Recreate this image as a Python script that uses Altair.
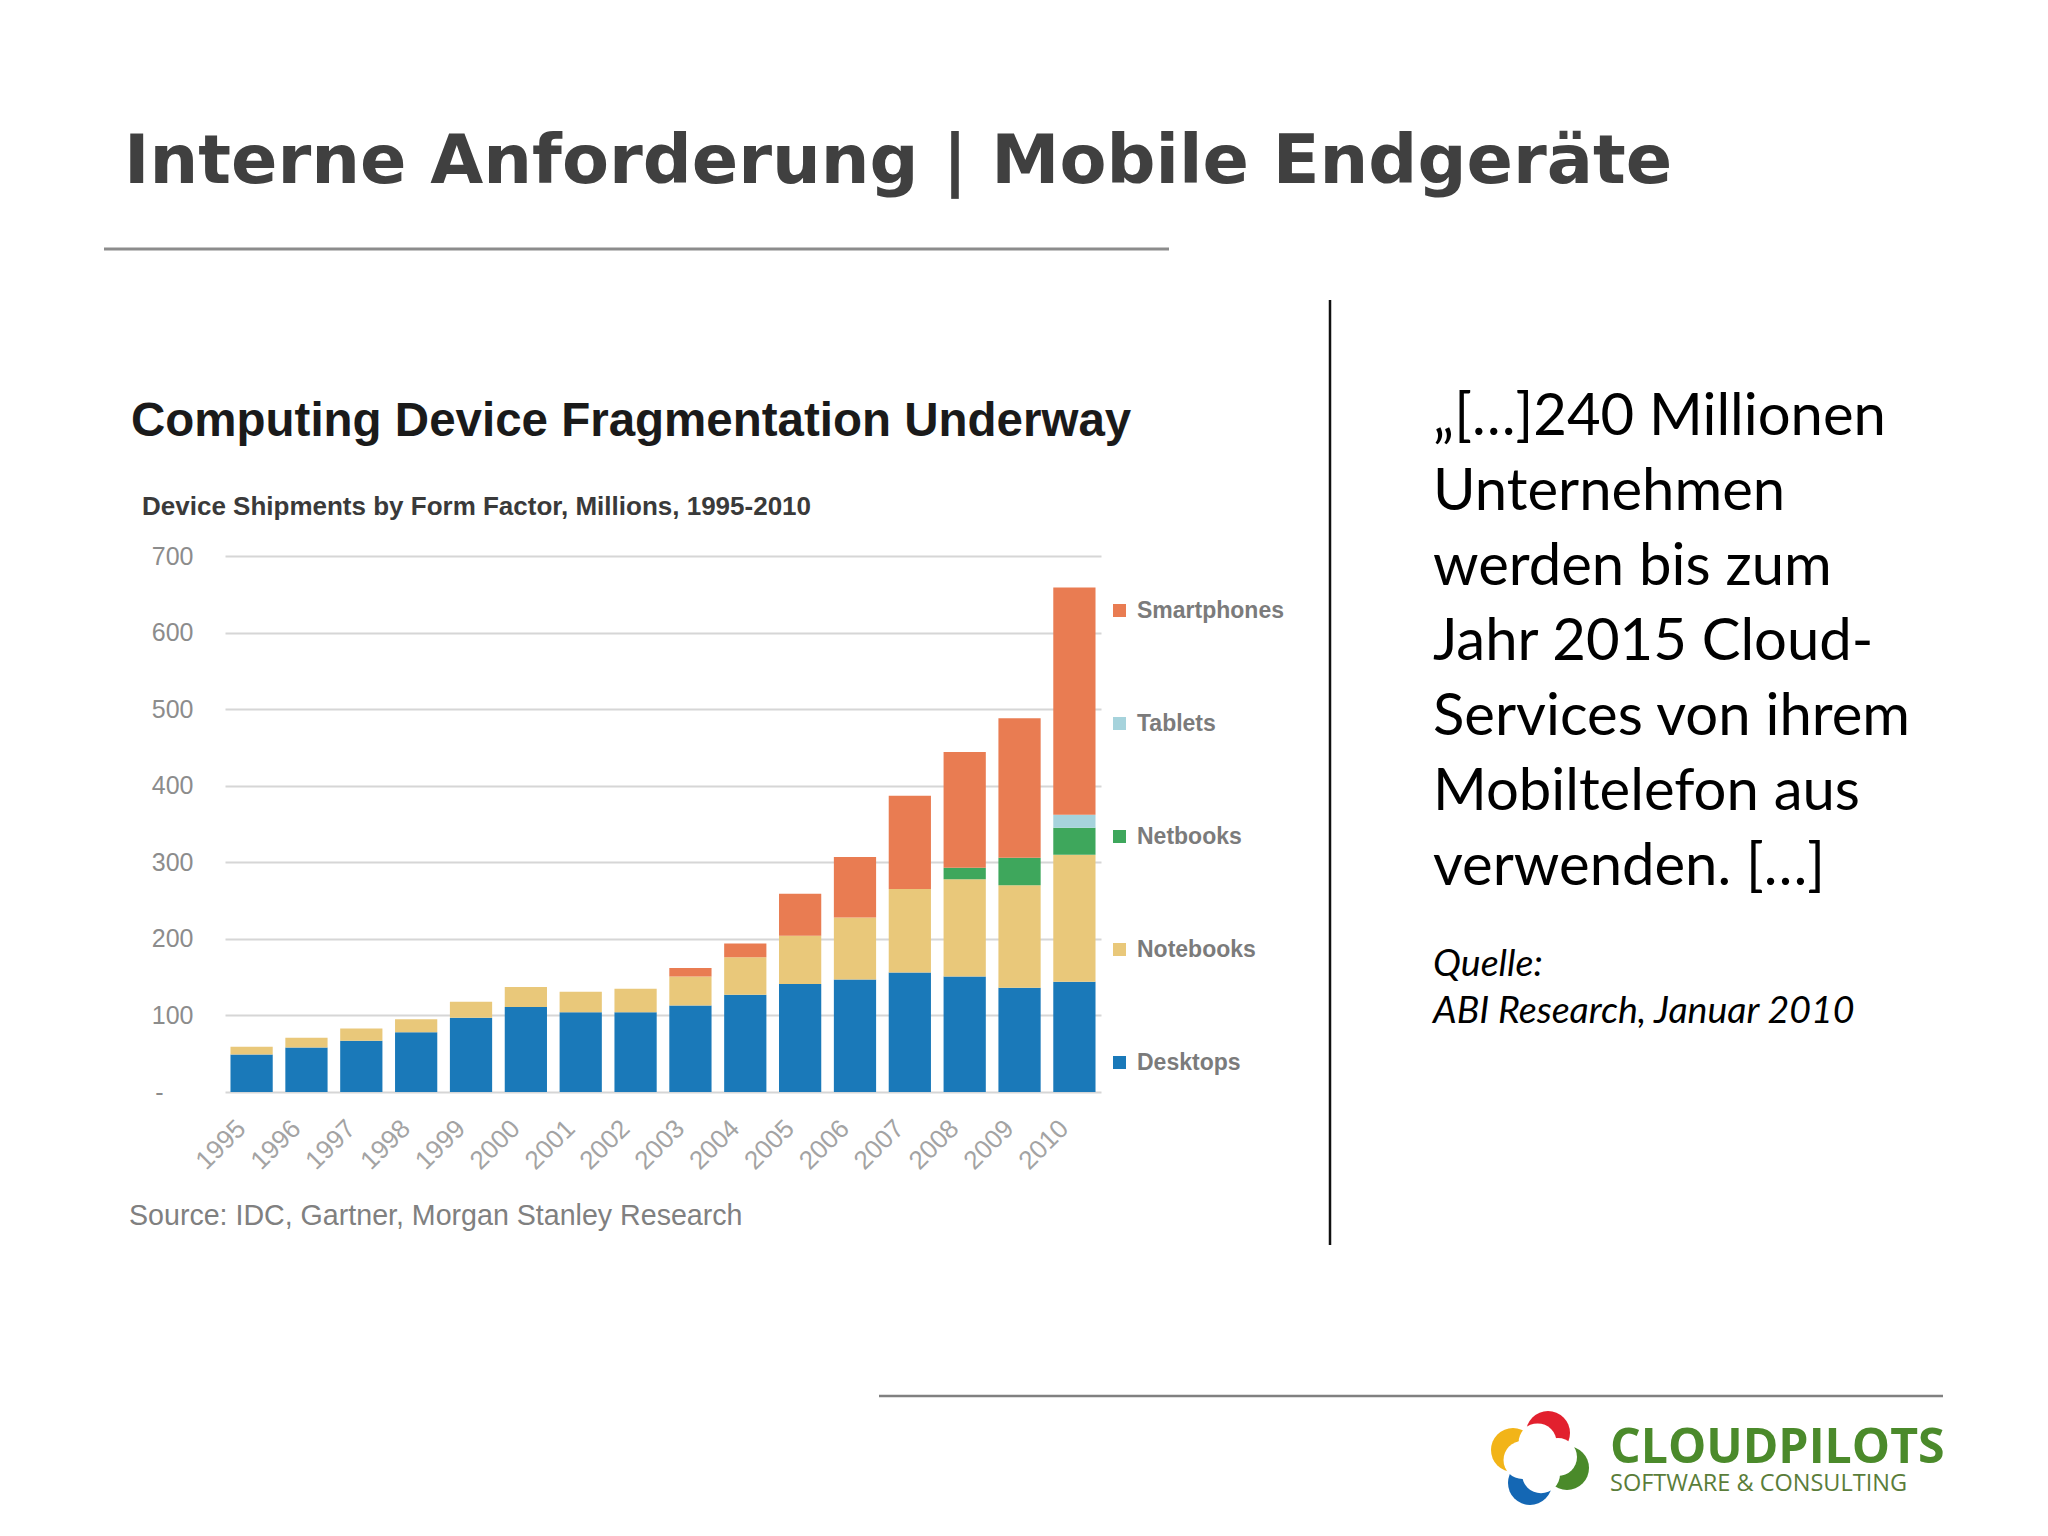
import altair as alt
import pandas as pd

# ---------------- data ----------------
years = [str(y) for y in range(1995, 2011)]
desktops    = [49, 58, 67, 78, 97, 111, 104, 104, 113, 127, 141, 147, 156, 151, 136, 144]
notebooks   = [10, 13, 16, 17, 21, 26, 27, 31, 38, 49, 63, 81, 109, 127, 134, 166]
netbooks    = [0, 0, 0, 0, 0, 0, 0, 0, 0, 0, 0, 0, 0, 15, 36, 35]
tablets     = [0, 0, 0, 0, 0, 0, 0, 0, 0, 0, 0, 0, 0, 0, 0, 17]
smartphones = [0, 0, 0, 0, 0, 0, 0, 0, 11, 18, 55, 79, 122, 151, 182, 297]

series_names = ["Smartphones", "Tablets", "Netbooks", "Notebooks", "Desktops"]
series_colors = ["#e97c52", "#a6d3dc", "#3ea75c", "#e9c87a", "#1a79b9"]
series_values = {
    "Desktops": desktops,
    "Notebooks": notebooks,
    "Netbooks": netbooks,
    "Tablets": tablets,
    "Smartphones": smartphones,
}
stack_order = {"Desktops": 0, "Notebooks": 1, "Netbooks": 2, "Tablets": 3, "Smartphones": 4}
y_ticks = [0, 100, 200, 300, 400, 500, 600, 700]

slide_title = "Interne Anforderung | Mobile Endgeräte"
chart_title = "Computing Device Fragmentation Underway"
chart_subtitle = "Device Shipments by Form Factor, Millions, 1995-2010"
source_text = "Source: IDC, Gartner, Morgan Stanley Research"
quote_lines = [
    "\u201e[\u2026]240 Millionen",
    "Unternehmen",
    "werden bis zum",
    "Jahr 2015 Cloud-",
    "Services von ihrem",
    "Mobiltelefon aus",
    "verwenden. [\u2026]",
]
quelle_lines = ["Quelle:", "ABI Research, Januar 2010"]
logo_name = "CLOUDPILOTS"
logo_sub = "SOFTWARE & CONSULTING"
logo_colors = ["#f2b418", "#e2202e", "#4a8a2a", "#1467b4"]

rows = []
for name in ["Desktops", "Notebooks", "Netbooks", "Tablets", "Smartphones"]:
    for yr, v in zip(years, series_values[name]):
        rows.append({"year": yr, "type": name, "value": v, "ord": stack_order[name]})
df = pd.DataFrame(rows)

W, H = 876, 536

bars = alt.Chart(df).mark_bar(strokeWidth=0).encode(
    x=alt.X("year:O", title=None,
            scale=alt.Scale(paddingInner=0.23, paddingOuter=0.1),
            axis=alt.Axis(labelAngle=-45, labelAlign="right", labelBaseline="middle",
                          labelPadding=32, labelOffset=-10, domain=False, ticks=False,
                          labelFont="Liberation Sans", labelFontSize=26,
                          labelColor="#a3a3a3")),
    y=alt.Y("value:Q", stack="zero", title=None,
            scale=alt.Scale(domain=[0, 700], nice=False),
            axis=alt.Axis(values=y_ticks, grid=True, gridColor="#d6d6d6", gridWidth=2,
                          domain=False, ticks=False,
                          labelPadding={"condition": {"test": "datum.value == 0", "value": 62},
                                        "value": 32},
                          labelFont="Liberation Sans", labelFontSize=25,
                          labelColor="#8c8c8c",
                          labelExpr="datum.value == 0 ? '-' : datum.label")),
    color=alt.Color("type:N",
                    scale=alt.Scale(domain=series_names, range=series_colors),
                    legend=alt.Legend(orient="none", legendX=883, legendY=43, title="",
                                      symbolType="square", symbolSize=169,
                                      symbolStrokeWidth=0, labelFont="Liberation Sans",
                                      labelFontSize=23, labelFontWeight="bold",
                                      labelColor="#7b7b7b", rowPadding=89,
                                      labelOffset=6, padding=0)),
    order=alt.Order("ord:Q", sort="ascending"),
)

one = pd.DataFrame({"k": [0]})

def text_layer(txt, x, y, **kw):
    return alt.Chart(one).mark_text(text=txt, align="left", baseline="alphabetic", **kw).encode(
        x=alt.value(x), y=alt.value(y))

def rule_layer(x, x2, y, y2, color, width):
    return alt.Chart(one).mark_rule(color=color, strokeWidth=width).encode(
        x=alt.value(x), x2=alt.value(x2), y=alt.value(y), y2=alt.value(y2))

layers = [bars]
layers.append(text_layer(slide_title, -101, -373, font="DejaVu Sans", fontWeight="bold",
                         fontSize=68.5, color="#404040"))
layers.append(rule_layer(-121, 944, -307, -307, "#8c8c8c", 3))
layers.append(text_layer(chart_title, -94, -120, font="Liberation Sans", fontWeight="bold",
                         fontSize=47.5, color="#1a1a1a"))
layers.append(text_layer(chart_subtitle, -83, -41, font="Liberation Sans", fontWeight="bold",
                         fontSize=26, color="#3a3a3a"))
layers.append(text_layer(source_text, -96, 669, font="Liberation Sans", fontSize=28.6,
                         color="#808080"))
layers.append(rule_layer(1105, 1105, -256, 689, "#111111", 2.5))
layers.append(text_layer(quote_lines, 1208, -121, font="Lato", fontSize=58,
                         lineHeight=75, color="#000000"))
layers.append(text_layer(quelle_lines, 1208, 420, font="Lato", fontSize=37.5,
                         fontStyle="italic", lineHeight=47, color="#000000"))
layers.append(rule_layer(654, 1718, 840, 840, "#808080", 2.5))

# logo (decoration)
petals = [(1288, 894), (1323, 877), (1342, 912), (1305, 927)]
bites = [(1297.5, 904), (1312.6, 886.4), (1333, 901), (1316, 918.3)]
for (px, py), c in zip(petals, logo_colors):
    layers.append(alt.Chart(one).mark_circle(size=1936, opacity=1, color=c).encode(
        x=alt.value(px), y=alt.value(py)))
for (bx, by) in bites:
    layers.append(alt.Chart(one).mark_circle(size=1444, opacity=1, color="#ffffff").encode(
        x=alt.value(bx), y=alt.value(by)))
layers.append(text_layer(logo_name, 1385, 907, font="Open Sans", fontWeight="bold",
                         fontSize=48.2, color="#4b8a2b"))
layers.append(text_layer(logo_sub, 1385, 935, font="Open Sans", fontSize=23.5,
                         color="#5a7d3a"))

chart = alt.layer(*layers).properties(
    width=W, height=H,
    autosize=alt.AutoSizeParams(type="none"),
    padding={"left": 217, "top": 548, "right": 939, "bottom": 436},
    background="#ffffff",
).configure_view(strokeWidth=0)

chart.save("out.html", embed_options={"renderer": "svg", "actions": False})
